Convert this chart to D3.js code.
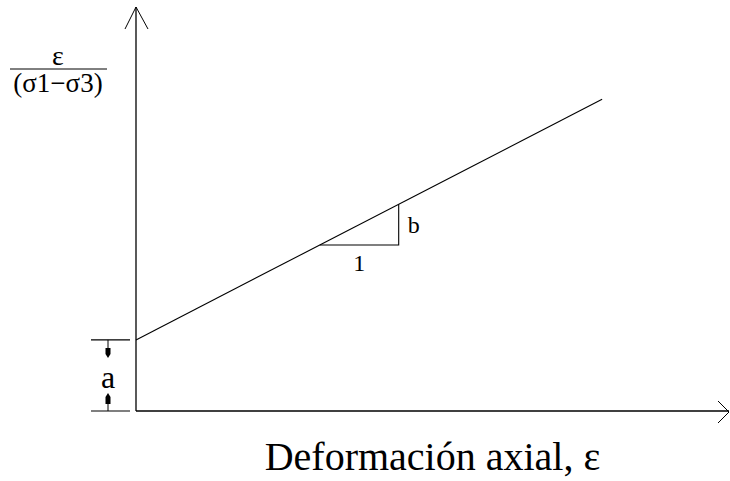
<!DOCTYPE html>
<html>
<head>
<meta charset="utf-8">
<script src="https://d3js.org/d3.v7.min.js"></script>
<style>
  html, body { margin: 0; padding: 0; background: #fff; }
  svg text { font-family: "Liberation Serif", "Times New Roman", serif; fill: #000; }
</style>
</head>
<body>
<div id="chart"></div>
<script>
// hyperbolic model in transformed axes: eps/(s1-s3) = a + b*eps
const xDomain = [0, 1];
const yDomain = [0, 1];
const lineX = [0, 0.786];
const intercept = 0.176;   // a
const slope = 0.758;       // b
const triStartX = 0.31;
const triRun = 0.133;
const xLabel = 'Deformación axial, ε';
const yLabelTop = 'ε';
const yLabelBottom = '(σ1−σ3)';
const labelA = 'a';
const labelB = 'b';
const labelRun = '1';

const W = 730, H = 481;
const svg = d3.select('#chart').append('svg')
  .attr('width', W).attr('height', H);

const x = d3.scaleLinear().domain(xDomain).range([136, 729]);
const y = d3.scaleLinear().domain(yDomain).range([411, 7]);

const stroke = '#000';

// axes
const axes = svg.append('g').attr('fill', 'none').attr('stroke', stroke);
axes.append('line')
  .attr('x1', x(0)).attr('y1', y(0)).attr('x2', x(0)).attr('y2', y(1))
  .attr('stroke-width', 1.3);
axes.append('line')
  .attr('x1', x(0)).attr('y1', y(0)).attr('x2', x(1)).attr('y2', y(0))
  .attr('stroke-width', 1.3);

// open arrowheads
axes.append('path')
  .attr('d', `M${x(0) - 11},${y(1) + 22} L${x(0)},${y(1)} L${x(0) + 12},${y(1) + 22}`)
  .attr('stroke-width', 1);
axes.append('path')
  .attr('d', `M${x(1) - 11},${y(0) - 10} L${x(1)},${y(0) + 1} L${x(1) - 11},${y(0) + 12}`)
  .attr('stroke-width', 1);

// the straight line
const lineData = lineX.map(v => [v, intercept + slope * v]);
svg.append('path')
  .datum(lineData)
  .attr('fill', 'none')
  .attr('stroke', stroke)
  .attr('stroke-width', 1.1)
  .attr('d', d3.line().x(d => x(d[0])).y(d => y(d[1])));

// slope triangle
const t0 = [triStartX, intercept + slope * triStartX];
const t1x = triStartX + triRun;
const t1y = intercept + slope * t1x;
svg.append('path')
  .attr('fill', 'none')
  .attr('stroke', stroke)
  .attr('stroke-width', 1.1)
  .attr('d', `M${x(t0[0])},${y(t0[1])} L${x(t1x)},${y(t0[1])} L${x(t1x)},${y(t1y)}`);

svg.append('text')
  .attr('x', (x(t0[0]) + x(t1x)) / 2)
  .attr('y', y(t0[1]) + 26)
  .attr('text-anchor', 'middle')
  .attr('font-size', 24)
  .text(labelRun);

svg.append('text')
  .attr('x', x(t1x) + 9)
  .attr('y', (y(t0[1]) + y(t1y)) / 2 + 8)
  .attr('font-size', 24)
  .text(labelB);

// intercept dimension "a"
const dimX = 108;
const ya = y(intercept), y0 = y(0);
const dim = svg.append('g').attr('stroke', stroke);
dim.append('line').attr('x1', 91).attr('x2', 130).attr('y1', ya).attr('y2', ya).attr('stroke-width', 1.2);
dim.append('line').attr('x1', 91).attr('x2', 130).attr('y1', y0).attr('y2', y0).attr('stroke-width', 1.2);
dim.append('line').attr('x1', dimX).attr('x2', dimX).attr('y1', ya).attr('y2', ya + 10).attr('stroke-width', 1);
dim.append('path')
  .attr('d', `M${dimX - 2.5},${ya + 8} L${dimX + 2.5},${ya + 8} L${dimX + 2.5},${ya + 14} L${dimX},${ya + 18} L${dimX - 2.5},${ya + 14} Z`)
  .attr('fill', stroke).attr('stroke', 'none');
dim.append('line').attr('x1', dimX).attr('x2', dimX).attr('y1', y0).attr('y2', y0 - 10).attr('stroke-width', 1);
dim.append('path')
  .attr('d', `M${dimX - 2.5},${y0 - 7} L${dimX + 2.5},${y0 - 7} L${dimX + 2.5},${y0 - 14} L${dimX},${y0 - 18} L${dimX - 2.5},${y0 - 14} Z`)
  .attr('fill', stroke).attr('stroke', 'none');
svg.append('text')
  .attr('x', dimX)
  .attr('y', 388)
  .attr('text-anchor', 'middle')
  .attr('font-size', 32)
  .text(labelA);

// y label as a fraction
svg.append('text')
  .attr('x', 58).attr('y', 65)
  .attr('text-anchor', 'middle')
  .attr('font-size', 28)
  .text(yLabelTop);
svg.append('line')
  .attr('x1', 10).attr('x2', 107).attr('y1', 69).attr('y2', 69)
  .attr('stroke', stroke).attr('stroke-width', 1);
svg.append('text')
  .attr('x', 58).attr('y', 92)
  .attr('text-anchor', 'middle')
  .attr('font-size', 27)
  .text(yLabelBottom);

// x label
svg.append('text')
  .attr('x', (x(0) + x(1)) / 2)
  .attr('y', 470)
  .attr('text-anchor', 'middle')
  .attr('font-size', 40)
  .text(xLabel);
</script>
</body>
</html>
